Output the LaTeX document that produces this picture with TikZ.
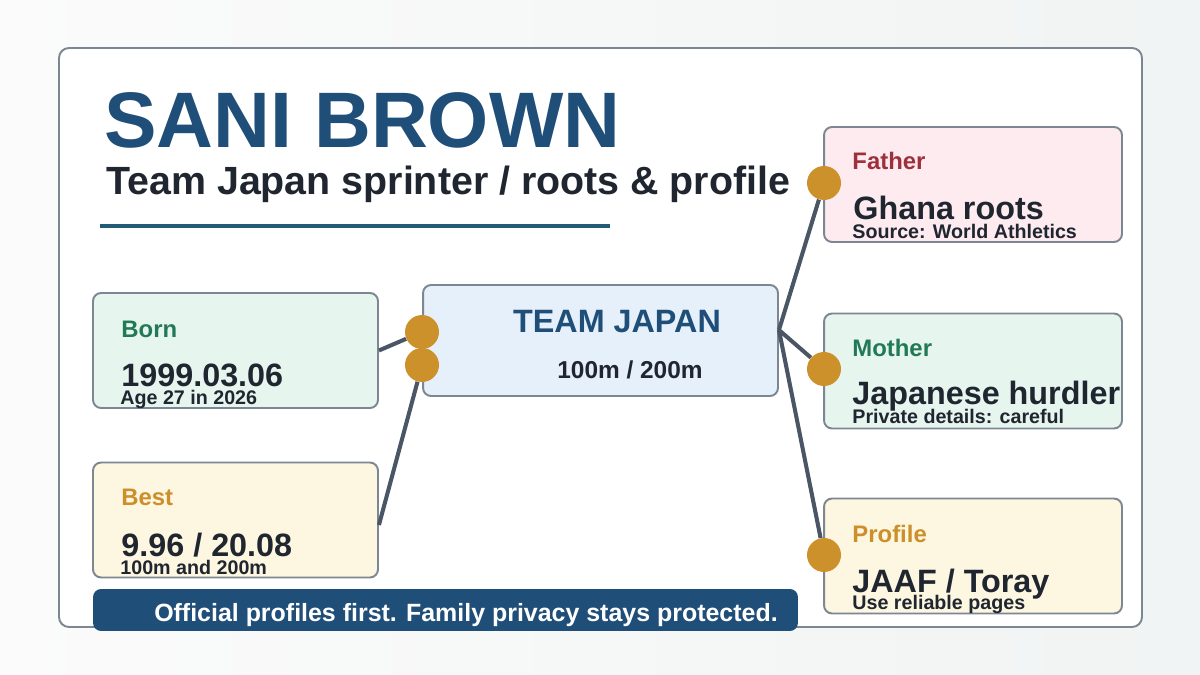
\documentclass[tikz,border=0pt]{standalone}
\usepackage{fontspec}
\setmainfont{Liberation Sans}
\usepackage{xcolor}
\usetikzlibrary{positioning}
\definecolor{navy}{HTML}{1F4E79}
\definecolor{ink}{HTML}{1F2630}
\definecolor{edge}{HTML}{7D8793}
\definecolor{wire}{HTML}{4A5565}
\definecolor{gold}{HTML}{CD912B}
\definecolor{leaf}{HTML}{217A55}
\definecolor{berry}{HTML}{9E2F3C}
\definecolor{amber}{HTML}{CC8F2A}
\definecolor{mint}{HTML}{E7F5EF}
\definecolor{cream}{HTML}{FDF6E0}
\definecolor{blush}{HTML}{FDEBEF}
\definecolor{sky}{HTML}{E6F0FA}
\definecolor{rulecol}{HTML}{235B77}

\begin{document}
\begin{tikzpicture}[x=0.02cm, y=-0.02cm,
		card/.style={draw=edge, line width=1.1pt, rounded corners=0.16cm, inner sep=0pt,
			minimum width=5.7cm, minimum height=2.3cm},
		side/.style={card, minimum width=5.96cm},
		dot/.style={circle, fill=gold, minimum size=0.68cm, inner sep=0pt},
		link/.style={wire, line width=2.3pt},
		lbl/.style={anchor=base west, inner sep=0pt, font=\bfseries\fontsize{13.6}{15}\selectfont},
		val/.style={anchor=base west, inner sep=0pt, text=ink, font=\bfseries\fontsize{18.4}{20}\selectfont},
		note/.style={anchor=base west, inner sep=0pt, text=ink, font=\bfseries\fontsize{11.2}{12}\selectfont}]
		\useasboundingbox (0,0) rectangle (1200,675);
		\shade[left color=white!60!gray!8, right color=cyan!10!gray!10] (0,0) rectangle (1200,675);
		\draw[edge, fill=white, line width=1.1pt, rounded corners=0.2cm] (59,48) rectangle (1142,627);

		% heading
		\node[anchor=base west, inner sep=0pt, text=navy, font=\bfseries\fontsize{44.8}{48}\selectfont] (title) at (104,148) {SANI BROWN};
		\node[anchor=base west, inner sep=0pt, text=ink, font=\bfseries\fontsize{22.4}{25}\selectfont] (sub) at (106,195) {Team Japan sprinter / roots \& profile};
		\draw[rulecol, line width=2.8pt] (100,226) -- (610,226);

		% cards
		\node[card, fill=mint] (born) at (235.5,350.5) {};
		\node[card, fill=cream] (best) at (235.5,520) {};
		\node[card, fill=sky, minimum width=7.1cm, minimum height=2.22cm] (team) at (600.5,340.5) {};
		\node[side, fill=blush] (father) at (973,184.5) {};
		\node[side, fill=mint] (mother) at (973,371) {};
		\node[side, fill=cream] (profile) at (973,556) {};

		\node[dot] (d1) at (422,332) {};
		\node[dot] (d2) at (422,365) {};
		\node[dot] (df) at (824,183) {};
		\node[dot] (dm) at (824,369) {};
		\node[dot] (dp) at (824,555) {};

		\coordinate (hub) at ([yshift=0.21cm]team.east);
		\draw[link] (born.east) -- (d1);
		\draw[link] ([yshift=-0.1cm]best.east) -- (d2);
		\draw[link] (hub) -- (df);
		\draw[link] (hub) -- (dm);
		\draw[link] (hub) -- (dp);

		% texts
		\node[lbl, text=leaf] (bornk) at ([shift={(29,45)}]born.north west) {Born};
		\node[val] (bornv) at ([shift={(29,94)}]born.north west) {1999.03.06};
		\node[note] (bornn) at ([shift={(28,112)}]born.north west) {Age 27 in 2026};
		\node[lbl, text=amber] (bestk) at ([shift={(29,44)}]best.north west) {Best};
		\node[val] (bestv) at ([shift={(29,95)}]best.north west) {9.96 / 20.08};
		\node[note] (bestn) at ([shift={(28,113)}]best.north west) {100m and 200m};
		\node[anchor=base, inner sep=0pt, text=navy, font=\bfseries\fontsize{18.4}{20}\selectfont] (teamk) at (617,333) {TEAM JAPAN};
		\node[anchor=base, inner sep=0pt, text=ink, font=\bfseries\fontsize{13.9}{15}\selectfont] (teamv) at (630,378) {100m / 200m};
		\node[lbl, text=berry] (fatherk) at ([shift={(29,43)}]father.north west) {Father};
		\node[val] (fatherv) at ([shift={(30,93)}]father.north west) {Ghana roots};
		\node[note] (fathern) at ([shift={(29,112)}]father.north west) {Source: World Athletics};
		\node[lbl, text=leaf] (motherk) at ([shift={(29,44)}]mother.north west) {Mother};
		\node[val] (motherv) at ([shift={(29,92)}]mother.north west) {Japanese hurdler};
		\node[note] (mothern) at ([shift={(29,111)}]mother.north west) {Private details: careful};
		\node[lbl, text=amber] (profilek) at ([shift={(29,45)}]profile.north west) {Profile};
		\node[val] (profilev) at ([shift={(29,95)}]profile.north west) {JAAF / Toray};
		\node[note] (profilen) at ([shift={(29,112)}]profile.north west) {Use reliable pages};

		% footer
		\node[fill=navy, rounded corners=0.16cm, minimum width=14.1cm, minimum height=0.84cm, inner sep=0pt] (foot) at (445.5,610) {};
		\node[anchor=base, inner sep=0pt, text=white, font=\bfseries\fontsize{14.2}{15}\selectfont] (footer) at (466,621) {Official profiles first. Family privacy stays protected.};
	\end{tikzpicture}
\end{document}
